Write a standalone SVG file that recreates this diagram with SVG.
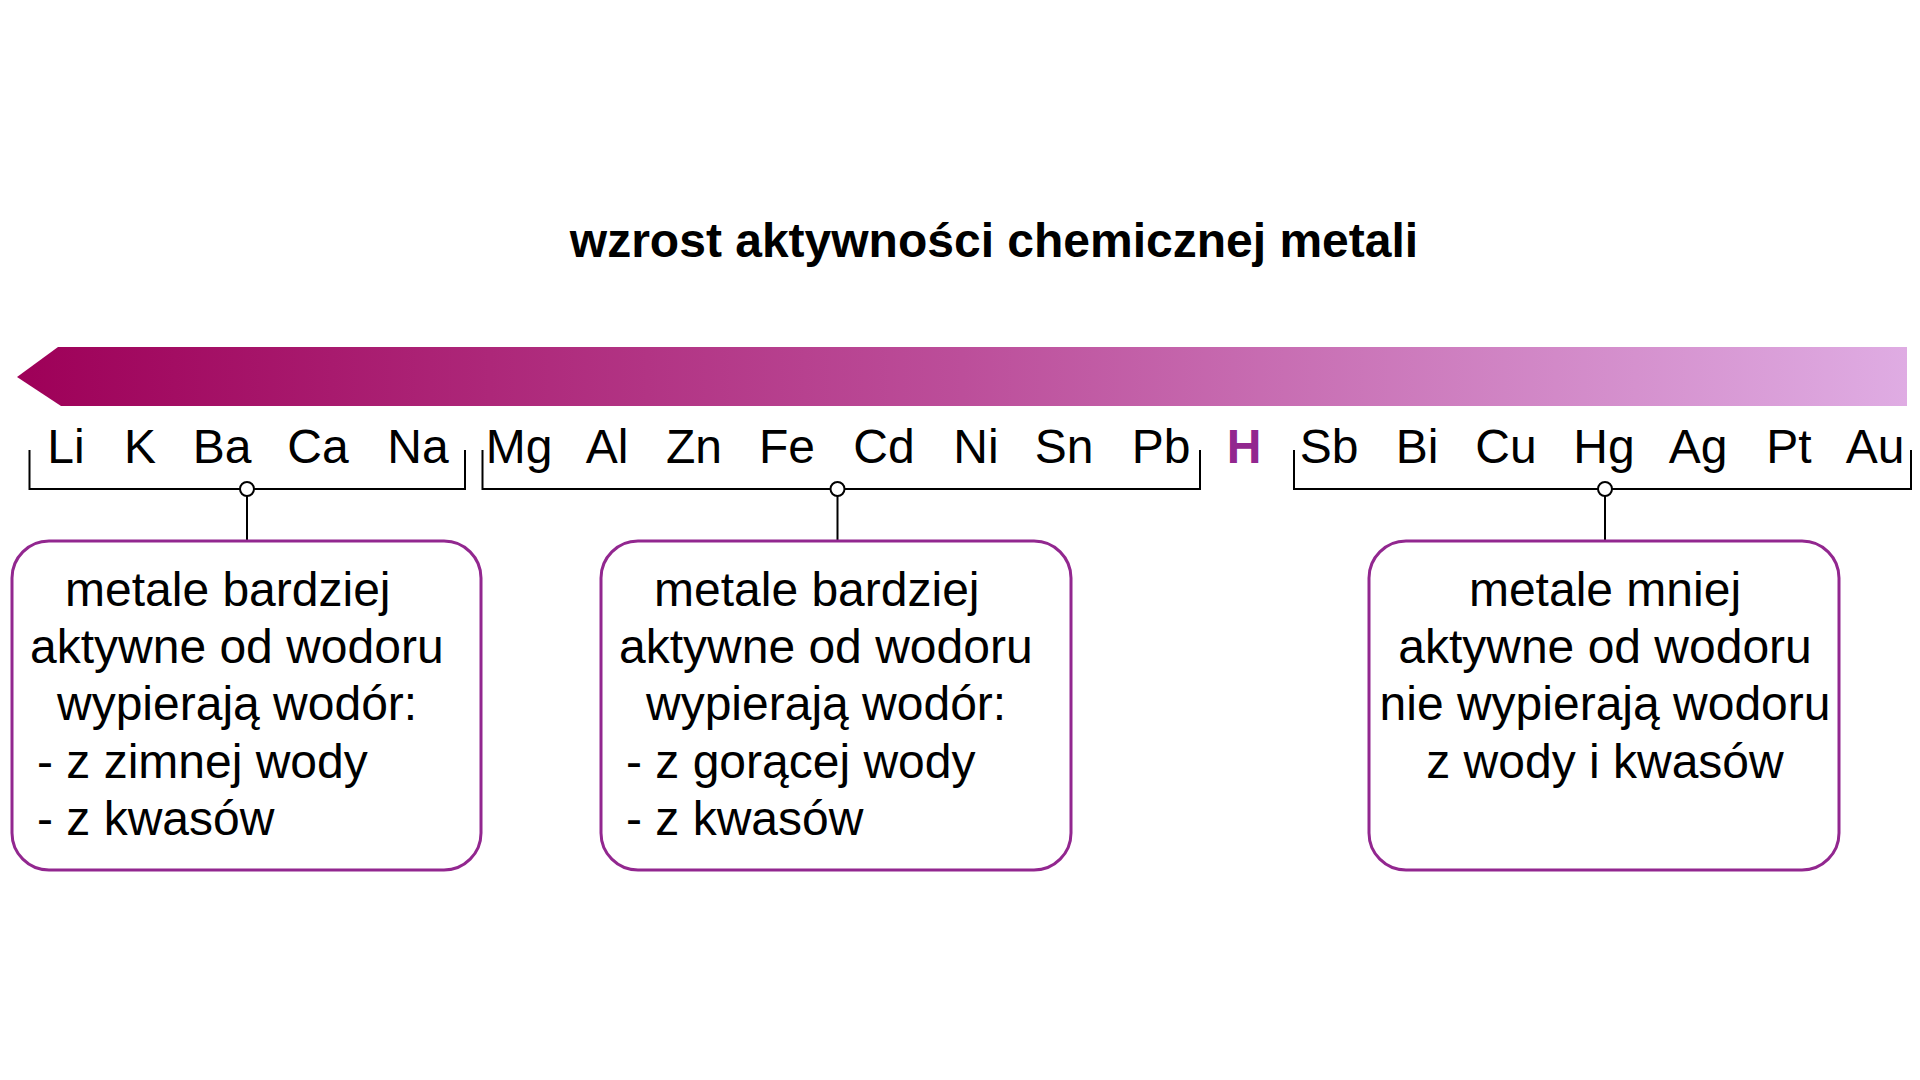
<svg xmlns="http://www.w3.org/2000/svg" width="1920" height="1080" viewBox="0 0 1920 1080">
  <defs>
    <linearGradient id="grad" x1="17" y1="0" x2="1907" y2="0" gradientUnits="userSpaceOnUse">
      <stop offset="0" stop-color="#9E0058"/>
      <stop offset="0.5" stop-color="#BC4E9A"/>
      <stop offset="1" stop-color="#DFACE3"/>
    </linearGradient>
  </defs>
  <style>
    text { font-family: "Liberation Sans", Arial, sans-serif; fill: #000; }
    .title { font-size: 48px; font-weight: bold; text-anchor: middle; }
    .el { font-size: 48px; text-anchor: middle; }
    .h { font-weight: bold; fill: #92278F; }
    .bx { font-size: 48px; }
    .mid { text-anchor: middle; }
    .box { fill: #fff; stroke: #92278F; stroke-width: 3; }
    .br { fill: none; stroke: #000; stroke-width: 2; }
    .dot { fill: #fff; stroke: #000; stroke-width: 2; }
  </style>
  <rect width="1920" height="1080" fill="#fff"/>

  <g id="title">
    <text class="title" x="994" y="257">wzrost aktywności chemicznej metali</text>
  </g>

  <g id="arrow">
    <polygon points="17,377 58,347 1907,347 1907,406 61,406" fill="url(#grad)"/>
  </g>

  <g id="elements">
    <text class="el" x="66" y="463">Li</text>
    <text class="el" x="140" y="463">K</text>
    <text class="el" x="222" y="463">Ba</text>
    <text class="el" x="318" y="463">Ca</text>
    <text class="el" x="418" y="463">Na</text>
    <text class="el" x="519" y="463">Mg</text>
    <text class="el" x="607" y="463">Al</text>
    <text class="el" x="694" y="463">Zn</text>
    <text class="el" x="787" y="463">Fe</text>
    <text class="el" x="884" y="463">Cd</text>
    <text class="el" x="976" y="463">Ni</text>
    <text class="el" x="1064" y="463">Sn</text>
    <text class="el" x="1161" y="463">Pb</text>
    <text class="el h" x="1244" y="463">H</text>
    <text class="el" x="1329" y="463">Sb</text>
    <text class="el" x="1417" y="463">Bi</text>
    <text class="el" x="1506" y="463">Cu</text>
    <text class="el" x="1604" y="463">Hg</text>
    <text class="el" x="1698" y="463">Ag</text>
    <text class="el" x="1789" y="463">Pt</text>
    <text class="el" x="1875" y="463">Au</text>
  </g>

  <g id="connectors">
    <path class="br" d="M29.5,450 V489 H465 V450"/>
    <path class="br" d="M247,496 V541"/>
    <circle class="dot" cx="247" cy="489" r="7"/>
    <path class="br" d="M482.5,450 V489 H1200 V450"/>
    <path class="br" d="M837.5,496 V541"/>
    <circle class="dot" cx="837.5" cy="489" r="7"/>
    <path class="br" d="M1294,450 V489 H1911 V450"/>
    <path class="br" d="M1605,496 V541"/>
    <circle class="dot" cx="1605" cy="489" r="7"/>
  </g>

  <g id="box1">
    <rect class="box" x="12" y="541" width="469" height="329" rx="37"/>
    <text class="bx" x="65" y="606">metale bardziej</text>
    <text class="bx" x="30" y="663">aktywne od wodoru</text>
    <text class="bx" x="57" y="720">wypierają wodór:</text>
    <text class="bx" x="37" y="778">- z zimnej wody</text>
    <text class="bx" x="37" y="835">- z kwasów</text>
  </g>

  <g id="box2">
    <rect class="box" x="601" y="541" width="470" height="329" rx="37"/>
    <text class="bx" x="654" y="606">metale bardziej</text>
    <text class="bx" x="619" y="663">aktywne od wodoru</text>
    <text class="bx" x="646" y="720">wypierają wodór:</text>
    <text class="bx" x="626" y="778">- z gorącej wody</text>
    <text class="bx" x="626" y="835">- z kwasów</text>
  </g>

  <g id="box3">
    <rect class="box" x="1369" y="541" width="470" height="329" rx="37"/>
    <text class="bx mid" x="1605" y="606">metale mniej</text>
    <text class="bx mid" x="1605" y="663">aktywne od wodoru</text>
    <text class="bx mid" x="1605" y="720">nie wypierają wodoru</text>
    <text class="bx mid" x="1605" y="778">z wody i kwasów</text>
  </g>
</svg>
